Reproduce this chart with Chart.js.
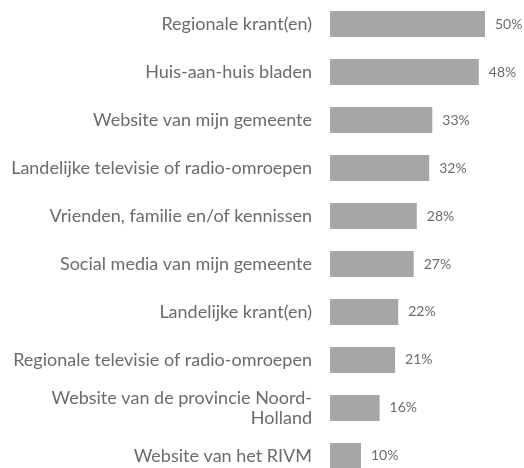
<!DOCTYPE html>
<html><head><meta charset="utf-8">
<script src="https://cdn.jsdelivr.net/npm/chart.js@4"></script>
<style>
html,body{margin:0;padding:0;background:#fff;overflow:hidden;}
#wrap{position:relative;width:524px;height:536px;margin-top:-28px;}
</style></head>
<body><div id="wrap"><canvas id="c"></canvas></div>
<script>
const categories = [
  "Regionale krant(en)",
  "Huis-aan-huis bladen",
  "Website van mijn gemeente",
  "Landelijke televisie of radio-omroepen",
  "Vrienden, familie en/of kennissen",
  "Social media van mijn gemeente",
  "Landelijke krant(en)",
  "Regionale televisie of radio-omroepen",
  ["Website van de provincie Noord-", "Holland"],
  "Website van het RIVM"
];
const values = [50, 48, 33, 32, 28, 27, 22, 21, 16, 10];
const valueLabels = ["50%", "48%", "33%", "32%", "28%", "27%", "22%", "21%", "16%", "10%"];

const valuePlugin = {
  id: 'valueLabels',
  afterDatasetsDraw(chart) {
    const ctx = chart.ctx;
    const meta = chart.getDatasetMeta(0);
    ctx.save();
    ctx.font = '14px Lato';
    ctx.fillStyle = '#6b6b6b';
    ctx.textAlign = 'left';
    ctx.textBaseline = 'middle';
    meta.data.forEach((bar, i) => {
      ctx.fillText(valueLabels[i], bar.x + 10, bar.y);
    });
    ctx.restore();
  }
};

new Chart(document.getElementById('c'), {
  type: 'bar',
  data: {
    labels: categories,
    datasets: [{
      data: values,
      backgroundColor: '#a6a6a6',
      categoryPercentage: 0.54,
      barPercentage: 1.0
    }]
  },
  options: {
    indexAxis: 'y',
    responsive: true,
    maintainAspectRatio: false,
    animation: false,
    layout: { padding: { left: 0, right: 8, top: 0, bottom: 0 } },
    plugins: { legend: { display: false }, tooltip: { enabled: false } },
    scales: {
      x: { display: false, min: 0, max: 60 },
      y: {
        grid: { display: false, drawTicks: false },
        border: { display: false },
        afterFit(scale) { scale.width = 330; },
        ticks: {
          color: '#6b6b6b',
          padding: 18,
          font: { family: 'Lato', size: 18, lineHeight: 1.12 }
        }
      }
    }
  },
  plugins: [valuePlugin]
});
</script></body></html>
